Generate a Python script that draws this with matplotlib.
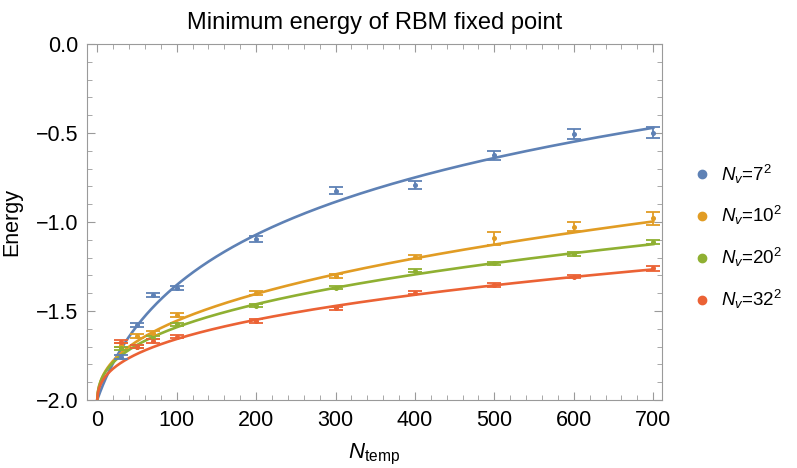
import numpy as np
import matplotlib
matplotlib.use('Agg')
import matplotlib.pyplot as plt
from matplotlib.ticker import MultipleLocator
from matplotlib.lines import Line2D

plt.rcParams['font.family'] = ['Liberation Sans', 'DejaVu Sans']
plt.rcParams['mathtext.fontset'] = 'custom'
plt.rcParams['mathtext.rm'] = 'Liberation Sans'
plt.rcParams['mathtext.it'] = 'Liberation Sans:italic'

# data
n_temp = [30, 50, 70, 100, 200, 300, 400, 500, 600, 700]
labels = [r'$N_v$=7$^2$', r'$N_v$=10$^2$', r'$N_v$=20$^2$', r'$N_v$=32$^2$']
colors = ['#5E81B5', '#E19C24', '#8FB032', '#EB6235']

e_7 = [-1.76, -1.58, -1.41, -1.372, -1.096, -0.824, -0.792, -0.624, -0.508, -0.498]
e_10 = [-1.69, -1.64, -1.625, -1.522, -1.397, -1.302, -1.195, -1.092, -1.026, -0.98]
e_20 = [-1.71, -1.70, -1.65, -1.575, -1.47, -1.369, -1.273, -1.232, -1.18, -1.114]
e_32 = [-1.672, -1.70, -1.667, -1.644, -1.555, -1.485, -1.397, -1.354, -1.307, -1.26]

err_7 = [0.01, 0.01, 0.01, 0.012, 0.016, 0.018, 0.02, 0.025, 0.028, 0.03]
err_10 = [0.01, 0.01, 0.01, 0.012, 0.012, 0.012, 0.012, 0.035, 0.025, 0.035]
err_20 = [0.01, 0.01, 0.01, 0.01, 0.01, 0.01, 0.01, 0.01, 0.01, 0.012]
err_32 = [0.01, 0.01, 0.01, 0.01, 0.01, 0.01, 0.01, 0.01, 0.01, 0.015]

energies = [e_7, e_10, e_20, e_32]
errors = [err_7, err_10, err_20, err_32]

# fitted curves: E = -2 + scale * ((1 + rate*N)**power - 1) / power
fit_scale = [0.509, 0.01197, 0.01272, 0.01066]
fit_rate = [0.025, 10, 10, 10]
fit_power = [0.02, 0.40, 0.37, 0.37]

fig = plt.figure(figsize=(7.97, 4.68), dpi=100)
ax = fig.add_axes([0.109, 0.1453, 0.7216, 0.7607])

nn = np.linspace(0, 700, 800)
for i in range(4):
    curve = -2 + fit_scale[i] * ((1 + fit_rate[i] * nn) ** fit_power[i] - 1) / fit_power[i]
    ax.plot(nn, curve, color=colors[i], lw=1.9, zorder=2)
    ax.errorbar(n_temp, energies[i], yerr=errors[i], fmt='o', ms=2.6, color=colors[i],
                ecolor=colors[i], elinewidth=1.3, capsize=5, capthick=1.3, zorder=3)

ax.set_xlim(-13, 711)
ax.set_ylim(-2.0, 0.0)
ax.xaxis.set_major_locator(MultipleLocator(100))
ax.xaxis.set_minor_locator(MultipleLocator(20))
ax.yaxis.set_major_locator(MultipleLocator(0.5))
ax.yaxis.set_minor_locator(MultipleLocator(0.1))
ax.yaxis.set_major_formatter(matplotlib.ticker.FuncFormatter(lambda v, p: f'{v:.1f}'.replace('-', '\u2212')))

for s in ax.spines.values():
    s.set_color('#9a9a9a')
ax.tick_params(which='both', direction='in', top=True, right=True, color='#9a9a9a',
               labelsize=15.5)
ax.tick_params(axis='x', pad=7)
ax.tick_params(axis='y', pad=6)
ax.tick_params(which='major', length=6)
ax.tick_params(which='minor', length=3.5)

ax.set_title('Minimum energy of RBM fixed point', fontsize=17, pad=11)
ax.set_xlabel(r'$N_{\mathrm{temp}}$', fontsize=16, labelpad=8)
ax.set_ylabel('Energy', fontsize=15.5, labelpad=10)

handles = [Line2D([], [], marker='o', ls='none', ms=6, color=c) for c in colors]
fig.legend(handles, labels, loc='center left', bbox_to_anchor=(0.848, 0.494),
           frameon=False, fontsize=13.5, handletextpad=0.5, labelspacing=1.0,
           handlelength=1.0)

fig.savefig('out.png', dpi=100)
